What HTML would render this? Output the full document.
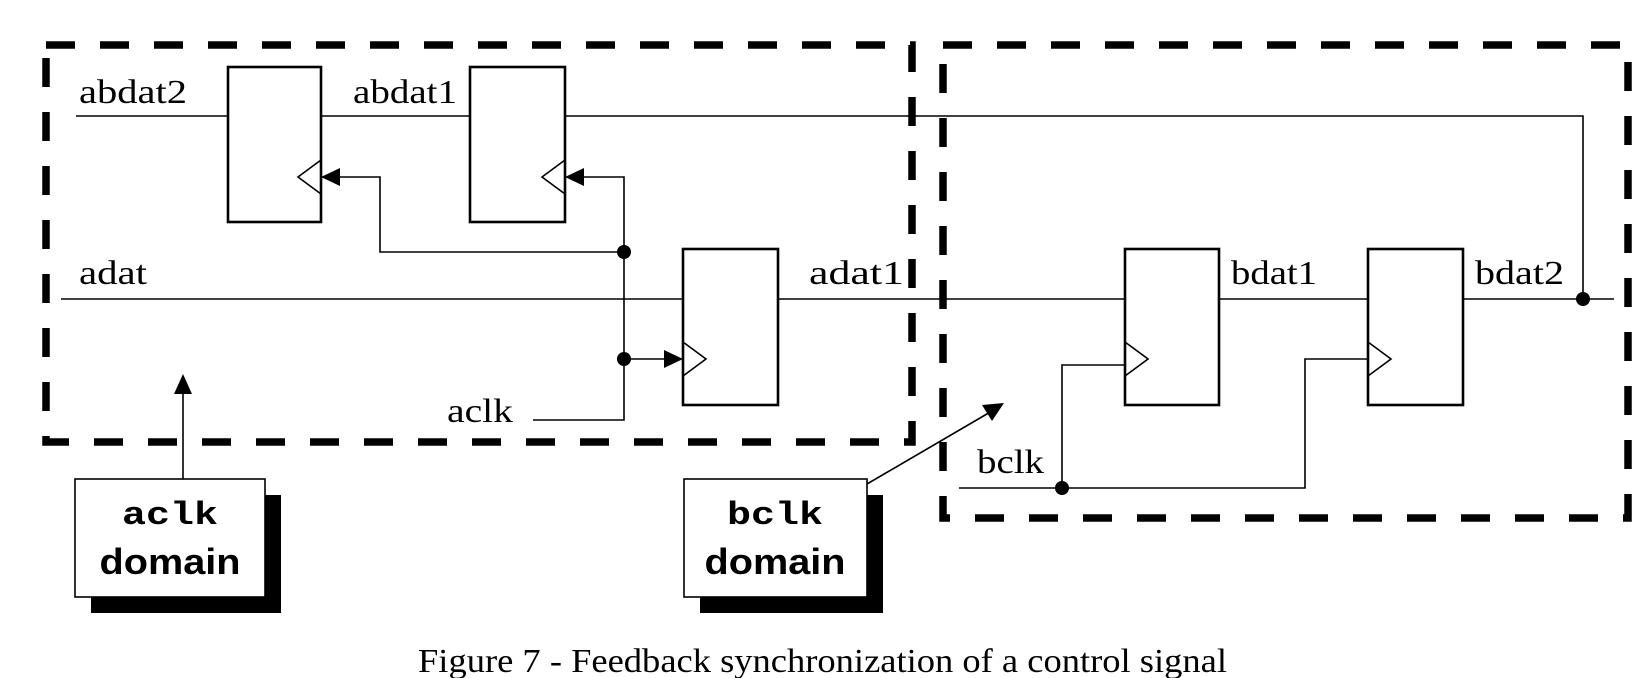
<!DOCTYPE html>
<html><head><meta charset="utf-8"><style>
html,body{margin:0;padding:0;background:#fff;}
svg{display:block;}
.w{stroke:#000;stroke-width:1.6;fill:none;}
.ff{stroke:#000;stroke-width:2.6;fill:#fff;}
.d{stroke:#000;stroke-width:7.5;fill:none;stroke-dasharray:29 25;}
.lbl{font-family:"Liberation Serif",serif;font-size:34px;}
.mono{font-family:"Liberation Mono",monospace;font-weight:bold;font-size:32px;}
.sans{font-family:"Liberation Sans",sans-serif;font-weight:bold;font-size:36px;}
</style></head><body>
<svg width="1652" height="678" viewBox="0 0 1652 678">
<g>
<path class="d" d="M46,45 H912 V442 H46 Z"/>
</g>
<g>
<path class="d" d="M943,45 H1628 V518 H943 Z"/>
</g>
<g>
<path class="w" d="M76,116 H228"/>
<path class="w" d="M321,116 H470"/>
<path class="w" d="M565,116 H1583 V299"/>
<path class="w" d="M61,299 H683"/>
<path class="w" d="M778,299 H1125"/>
<path class="w" d="M1219,299 H1368"/>
<path class="w" d="M1463,299 H1614"/>
<path class="w" d="M533,420 H624 V177 H565"/>
<path class="w" d="M624,252 H380 V177 H321"/>
<path class="w" d="M624,359 H683"/>
<path class="w" d="M959,488 H1305 V359 H1368"/>
<path class="w" d="M1062,488 V365 H1125"/>
</g>
<g><rect class="ff" x="228" y="67" width="93" height="155"/><path class="w" d="M321,160 L298,177 L321,194"/></g>
<g><rect class="ff" x="470" y="67" width="95" height="155"/><path class="w" d="M565,160 L542,177 L565,194"/></g>
<g><rect class="ff" x="683" y="249" width="95" height="156"/><path class="w" d="M683,342 L706,359 L683,376"/></g>
<g><rect class="ff" x="1125" y="249" width="94" height="156"/><path class="w" d="M1125,342 L1148,359 L1125,376"/></g>
<g><rect class="ff" x="1368" y="249" width="95" height="156"/><path class="w" d="M1368,342 L1391,359 L1368,376"/></g>
<path d="M321,177 L340,168 L340,186 Z" fill="#000"/>
<path d="M565,177 L584,168 L584,186 Z" fill="#000"/>
<path d="M683,359 L664,350 L664,368 Z" fill="#000"/>
<circle cx="624" cy="252" r="7" fill="#000"/>
<circle cx="624" cy="359" r="7" fill="#000"/>
<circle cx="1583" cy="299" r="7" fill="#000"/>
<circle cx="1062" cy="488" r="7" fill="#000"/>
<text class="lbl" x="79" y="103" textLength="108" lengthAdjust="spacingAndGlyphs">abdat2</text>
<text class="lbl" x="353" y="103" textLength="104" lengthAdjust="spacingAndGlyphs">abdat1</text>
<text class="lbl" x="79" y="284" textLength="68" lengthAdjust="spacingAndGlyphs">adat</text>
<text class="lbl" x="809" y="284" textLength="95" lengthAdjust="spacingAndGlyphs">adat1</text>
<text class="lbl" x="1231" y="284" textLength="86" lengthAdjust="spacingAndGlyphs">bdat1</text>
<text class="lbl" x="1475" y="284" textLength="89" lengthAdjust="spacingAndGlyphs">bdat2</text>
<text class="lbl" x="447" y="422" textLength="66" lengthAdjust="spacingAndGlyphs">aclk</text>
<text class="lbl" x="977" y="473" textLength="67" lengthAdjust="spacingAndGlyphs">bclk</text>
<g>
<rect x="91" y="495" width="190" height="118" fill="#000"/>
<rect x="75" y="479" width="190" height="118" fill="#fff" stroke="#000" stroke-width="1.6"/>
<text class="mono" x="170" y="524" text-anchor="middle" textLength="96" lengthAdjust="spacingAndGlyphs">aclk</text>
<text class="sans" x="170" y="574" text-anchor="middle" textLength="141" lengthAdjust="spacingAndGlyphs">domain</text>
<path class="w" d="M183,479 V392" stroke-width="2"/>
<path d="M183,374 L174,394 L192,394 Z" fill="#000"/>
</g>
<g>
<rect x="700" y="495" width="183" height="118" fill="#000"/>
<rect x="684" y="479" width="183" height="118" fill="#fff" stroke="#000" stroke-width="1.6"/>
<text class="mono" x="775" y="524" text-anchor="middle" textLength="96" lengthAdjust="spacingAndGlyphs">bclk</text>
<text class="sans" x="775" y="574" text-anchor="middle" textLength="141" lengthAdjust="spacingAndGlyphs">domain</text>
<path class="w" d="M867,484 L992,411" stroke-width="2"/>
<path d="M1004,403 L982,405 L992,421 Z" fill="#000"/>
</g>
<text class="lbl" x="418" y="672" font-size="34" textLength="809" lengthAdjust="spacingAndGlyphs">Figure 7 - Feedback synchronization of a control signal</text>
</svg>
</body></html>
